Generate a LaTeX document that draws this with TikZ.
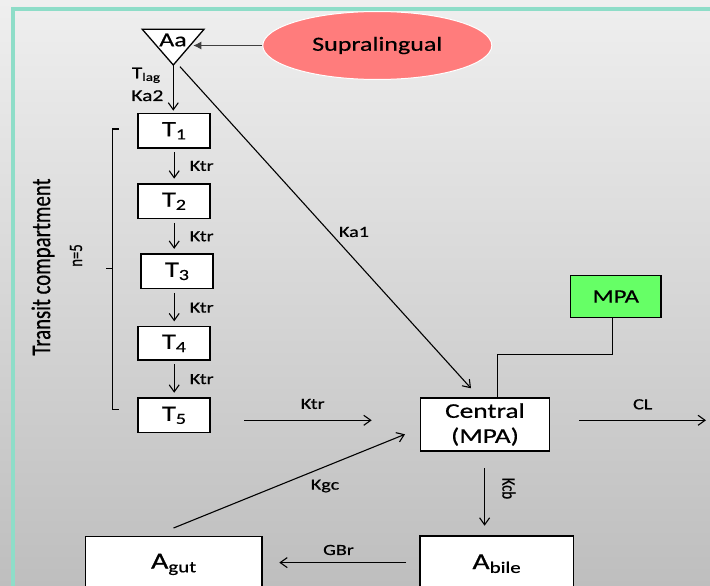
\documentclass[tikz,border=0pt]{standalone}
\usepackage{fontspec}
\setmainfont{Carlito}[FakeStretch=1.3,FakeBold=0.6]
\newfontfamily\rotfont{Carlito}[FakeStretch=0.77,FakeBold=0.6]
\usetikzlibrary{arrows.meta,shapes.geometric}
\definecolor{frame}{HTML}{8EDDC8}
\definecolor{bgtop}{HTML}{EFEFEF}
\definecolor{bgbot}{HTML}{BEBEBE}
\definecolor{supra}{HTML}{FF7C7C}
\definecolor{mpagreen}{HTML}{66FF66}
\newcommand{\fsz}[2]{\fontsize{#1pt}{#2pt}\selectfont}
\begin{document}
\begin{tikzpicture}[x=1pt,y=-1pt,
  box/.style={draw=black,line width=1.6pt,fill=white,inner sep=0pt},
  arr/.style={line width=1.1pt,-{Straight Barb[length=7pt,width=10pt,line width=1.1pt]}},
  plain/.style={line width=1.1pt},
  lbl/.style={inner sep=0pt,font=\fsz{15.5}{18}},
  rot/.style={inner sep=0pt}]
\useasboundingbox (0,0) rectangle (710,586);
\clip (0,0) rectangle (710,586);
\shade[top color=bgtop,bottom color=bgbot] (0,0) rectangle (710,586);
% frame
\draw[frame,line width=4pt,line join=miter] (13,600) -- (13,9.5) -- (720,9.5);

% Aa triangle
\coordinate (aatl) at (142.3,29.3);
\coordinate (aatr) at (204,29.3);
\coordinate (aab) at (173.3,65);
\draw[line width=1.3pt,fill=white,line join=miter] (aatl) -- (aatr) -- (aab) -- cycle;
\node[inner sep=0pt,font=\fsz{20}{24}] (aa) at (173,40) {Aa};

% Supralingual
\node[ellipse,fill=supra,draw=white,line width=1pt,minimum width=229pt,minimum height=68pt,inner sep=0pt,font=\fsz{20}{24}] (supra) at (377.3,45.5) {Supralingual};
\coordinate (aain) at (193.3,45.5);
\draw[line width=1pt,black!75,-{Latex[length=8pt,width=8pt]}] (supra.west) -- (aain);

% Tlag, Ka2
\node[lbl,anchor=base west,font=\fsz{16.5}{19}] (tlag) at (131.7,78.3) {T\textsubscript{lag}};
\node[lbl,anchor=base west,font=\fsz{16.5}{19}] (ka2) at (131.2,101) {Ka2};

% transit boxes
\node[box,minimum width=72pt,minimum height=34.5pt,font=\fsz{22}{26}] (t1) at (174.2,130.7) {T\textsubscript{1}};
\node[box,minimum width=72pt,minimum height=34.5pt,font=\fsz{22}{26}] (t2) at (174.2,201.2) {T\textsubscript{2}};
\node[box,minimum width=72pt,minimum height=34.5pt,font=\fsz{22}{26}] (t3) at (177.2,271.4) {T\textsubscript{3}};
\node[box,minimum width=72pt,minimum height=33.5pt,font=\fsz{22}{26}] (t4) at (174.2,343.4) {T\textsubscript{4}};
\node[box,minimum width=72pt,minimum height=34.5pt,font=\fsz{22}{26}] (t5) at (174.2,415.3) {T\textsubscript{5}};

\draw[arr,shorten >=2pt] (aab) -- (aab |- t1.north);
\draw[arr,shorten <=3.5pt,shorten >=4.5pt] (t1.south) -- (t1.south |- t2.north) node[lbl,midway,right=15pt] {Ktr};
\draw[arr,shorten <=3.5pt,shorten >=4.5pt] (t2.south) -- (t2.south |- t3.north) node[lbl,midway,right=15pt] {Ktr};
\draw[arr,shorten <=3.5pt,shorten >=4.5pt] (t2.south |- t3.south) -- (t2.south |- t4.north) node[lbl,midway,right=15pt] {Ktr};
\draw[arr,shorten <=3.5pt,shorten >=4.5pt] (t4.south) -- (t4.south |- t5.north) node[lbl,midway,right=15pt] {Ktr};

% bracket
\draw[line width=1.2pt] (119,129) -- (112.7,129) -- (112.7,409.3) -- (119,409.3);
\draw[line width=1.2pt] (112.7,268.7) -- (106,268.7);
\node[rot,rotate=90,font=\rotfont\fsz{27}{30}] (transit) at (43,267) {Transit compartment};
\node[rot,rotate=90,font=\rotfont\fsz{19}{22}] (nfive) at (76,255.5) {n=5};

% central and MPA
\node[box,minimum width=129pt,minimum height=52.5pt,align=center,font=\fsz{21}{25}] (central) at (485,424.5) {Central\\(MPA)};
\node[box,fill=mpagreen,minimum width=90.5pt,minimum height=42pt,font=\fsz{19}{22}] (mpa) at (615.8,296.5) {MPA};
\draw[plain] ([xshift=-3.5pt]mpa.south) |- (497.7,354.7) -- (497.7,0 |- central.north);

% Ka1
\coordinate (ka1s) at (180,66.7);
\coordinate (ka1e) at (471,388.3);
\draw[arr] (ka1s) -- (ka1e);
\node[lbl] (ka1) at (354,232) {Ka1};

% T5 -> central
\coordinate (ktrs) at (244,420.3);
\coordinate (ktre) at (371.7,420.3);
\draw[arr] (ktrs) -- (ktre);
\node[lbl] (ktr5) at (312.7,404) {Ktr};

% CL
\coordinate (cls) at (579.3,420.3);
\coordinate (cle) at (706,420.3);
\draw[arr] (cls) -- (cle);
\node[lbl] (cl) at (642.7,404.3) {CL};

% bottom boxes
\node[box,minimum width=176.5pt,minimum height=56pt,font=\fsz{23}{27}] (agut) at (173.9,564.4) {A\textsubscript{gut}};
\node[box,minimum width=153.5pt,minimum height=56pt,font=\fsz{23}{27}] (abile) at (496.8,563.7) {A\textsubscript{bile}};

% Kcb
\coordinate (kcbs) at (484.6,468.3);
\coordinate (kcbe) at (484.6,525.7);
\draw[arr] (kcbs) -- (kcbe);
\node[rot,rotate=-90,font=\rotfont\fsz{19}{22}] (kcb) at (509,488.5) {Kcb};

% GBr
\coordinate (gbrs) at (406,562.6);
\coordinate (gbre) at (279.3,562.6);
\draw[arr] (gbrs) -- (gbre);
\node[lbl] (gbr) at (338.5,550) {GBr};

% Kgc
\coordinate (kgcs) at (173.6,528);
\coordinate (kgce) at (405,434.3);
\draw[arr] (kgcs) -- (kgce);
\node[lbl] (kgc) at (325,486) {Kgc};
\end{tikzpicture}
\end{document}
